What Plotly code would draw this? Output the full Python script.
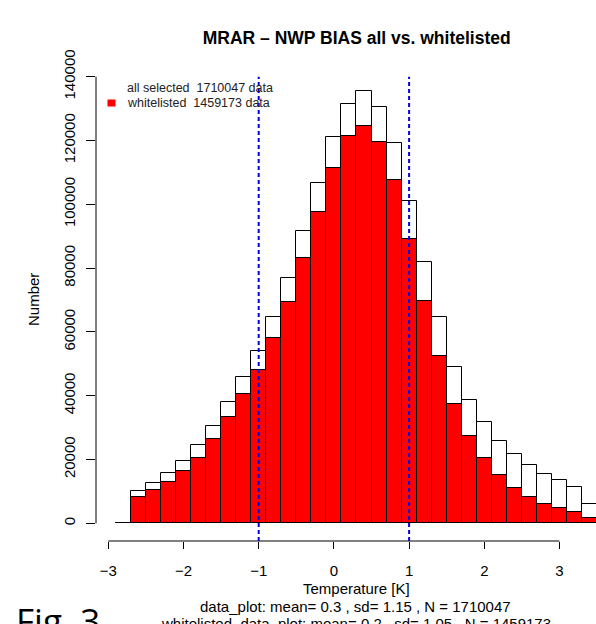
import plotly.graph_objects as go

# ---- data -------------------------------------------------------------
bin_centers = [-2.8, -2.6, -2.4, -2.2, -2.0, -1.8, -1.6, -1.4, -1.2, -1.0, -0.8,
               -0.6, -0.4, -0.2, 0.0, 0.2, 0.4, 0.6, 0.8, 1.0, 1.2, 1.4, 1.6,
               1.8, 2.0, 2.2, 2.4, 2.6, 2.8, 3.0, 3.2, 3.4]
all_selected = [0, 10100, 12650, 15800, 19550, 24400, 30550, 37900, 45900, 54000,
                64750, 77000, 91650, 106700, 121050, 131600, 135600, 130600,
                119300, 101100, 82000, 64750, 49050, 38800, 31700, 25650, 21850,
                18300, 15550, 13500, 11450, 6100]
whitelisted = [0, 8250, 10350, 12800, 16300, 20600, 26400, 33200, 40500, 48200,
               58150, 69450, 83270, 97500, 111400, 121500, 124700, 119500,
               107600, 89050, 69700, 52400, 37550, 27500, 20600, 15050, 11150,
               8150, 6100, 4650, 3600, 1650]
bin_width = 0.2
x_ticks = [-3, -2, -1, 0, 1, 2, 3]
y_ticks = [0, 20000, 40000, 60000, 80000, 100000, 120000, 140000]
sd_lines = [-1, 1]

title = "MRAR \u2013 NWP BIAS all vs. whitelisted"
legend_labels = ["all selected  1710047 data", "whitelisted  1459173 data"]
x_title = "Temperature [K]"
y_title = "Number"
stats_lines = ["data_plot: mean= 0.3 , sd= 1.15 , N = 1710047",
               "whitelisted_data_plot: mean= 0.2 , sd= 1.05 , N = 1459173"]
caption = "Fig. 3"

# ---- layout geometry ----------------------------------------------------
W, H = 596, 624
L, R, T, B = 96, 0, 59, 83
PW, PH = W - L - R, H - T - B
FONT = "Liberation Sans, Arial, Helvetica, sans-serif"
FS = 15


def px(x):
    return (x - L) / PW


def py(y):
    return (H - B - y) / PH


fig = go.Figure()
fig.add_trace(go.Bar(x=bin_centers, y=all_selected, width=bin_width,
                     marker=dict(color="white", line=dict(color="black", width=1)),
                     showlegend=False, name="all selected"))
fig.add_trace(go.Bar(x=bin_centers, y=whitelisted, width=bin_width,
                     marker=dict(color="#ff0000", line=dict(color="black", width=1)),
                     showlegend=False, name="whitelisted"))

shapes = []
# axis lines (R style, only spanning the tick range)
shapes.append(dict(type="line", xref="x", yref="paper", x0=min(x_ticks), x1=max(x_ticks),
                   y0=0, y1=0, line=dict(color="black", width=1)))
shapes.append(dict(type="line", xref="paper", yref="y", x0=0, x1=0,
                   y0=min(y_ticks), y1=max(y_ticks), line=dict(color="black", width=1)))
for v in sd_lines:
    shapes.append(dict(type="line", xref="x", yref="y", x0=v, x1=v,
                       y0=-5550, y1=max(y_ticks),
                       line=dict(color="#0000ee", width=2, dash="4px,3px")))
# legend fill box
shapes.append(dict(type="rect", xref="paper", yref="paper",
                   x0=px(107.5), x1=px(115.5), y0=py(106.5), y1=py(99.5),
                   fillcolor="#ff0000", line=dict(width=0)))

annotations = []
for i, lab in enumerate(legend_labels):
    annotations.append(dict(text=lab, xref="paper", yref="paper", x=px(124.5),
                            y=py(88.3 + 15 * i), xanchor="left", yanchor="middle",
                            showarrow=False, font=dict(family=FONT, size=12.5, color="#222")))
annotations.append(dict(text=y_title, xref="paper", yref="paper", x=px(33), y=py(300),
                        textangle=-90, xanchor="center", yanchor="middle", showarrow=False,
                        font=dict(family=FONT, size=FS, color="black")))
annotations.append(dict(text=x_title, xref="paper", yref="paper", x=px(356.5), y=py(588),
                        xanchor="center", yanchor="middle", showarrow=False,
                        font=dict(family=FONT, size=FS, color="black")))
for i, s in enumerate(stats_lines):
    annotations.append(dict(text=s, xref="paper", yref="paper", x=px(355.5),
                            y=py(606 + 17 * i), xanchor="center", yanchor="middle",
                            showarrow=False, font=dict(family=FONT, size=FS, color="black")))
annotations.append(dict(text=caption, xref="paper", yref="paper", x=px(14), y=py(595),
                        xanchor="left", yanchor="top", showarrow=False,
                        font=dict(family="Open Sans, Liberation Sans, sans-serif", size=35,
                                  color="black")))

fig.update_layout(
    width=W, height=H,
    margin=dict(l=L, r=R, t=T, b=B, pad=0),
    paper_bgcolor="white", plot_bgcolor="white",
    barmode="overlay", bargap=0,
    title=dict(text="<b>" + title + "</b>", xref="container", yref="container",
               x=356.7 / W, y=1 - 38.3 / H, xanchor="center", yanchor="middle",
               font=dict(family=FONT, size=17.5, color="black")),
    xaxis=dict(range=[-3.1636, 3.4854], tickvals=x_ticks, ticks="outside", ticklen=7,
               tickwidth=1, tickcolor="black", showgrid=False, zeroline=False,
               showline=False, tickfont=dict(family=FONT, size=FS, color="black"),
               ticklabelstandoff=9),
    yaxis=dict(range=[-5550, 145550], tickvals=y_ticks, tickformat="d",
               ticks="outside", ticklen=9,
               tickwidth=1, tickcolor="black", showgrid=False, zeroline=False,
               showline=False, tickangle=-90,
               tickfont=dict(family=FONT, size=FS, color="black"),
               ticklabelstandoff=5),
    shapes=shapes,
    annotations=annotations,
)

fig.write_html("out.html")
